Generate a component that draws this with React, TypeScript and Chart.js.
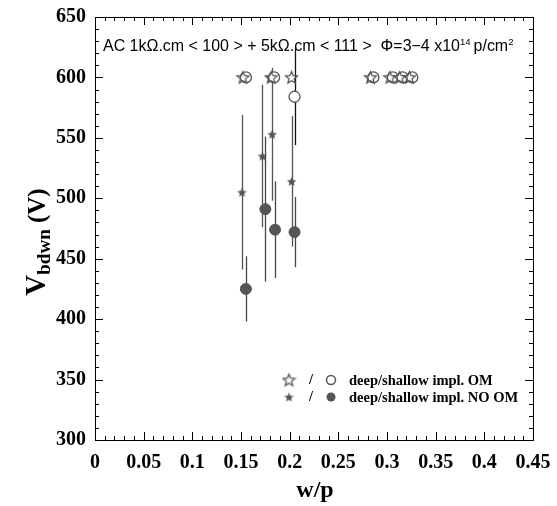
import React, { useEffect, useRef } from "react";
import { Chart, registerables } from "chart.js";
Chart.register(...registerables);

// deep implant, OM (open stars)
const omDeepX = [0.152, 0.181, 0.202, 0.283, 0.303, 0.313, 0.323];
const omDeepY = [600, 600, 600, 600, 600, 600, 600];
// shallow implant, OM (open circles)
const omShallowX = [0.155, 0.184, 0.205, 0.286, 0.306, 0.316, 0.326];
const omShallowY = [600, 600, 584, 600, 600, 600, 600];
const omShallowErr = [0, 0, 40, 0, 0, 0, 0];
// deep implant, NO OM (filled stars)
const noOmDeepX = [0.151, 0.172, 0.180, 0.182, 0.202];
const noOmDeepY = [505, 535, 600, 553, 514];
const noOmDeepErr = [64, 59, 0, 55, 54];
// shallow implant, NO OM (filled circles)
const noOmShallowX = [0.155, 0.175, 0.185, 0.205];
const noOmShallowY = [425, 491, 474, 472];
const noOmShallowErr = [27, 60, 40, 29];

const xMin = 0, xMax = 0.45, xStep = 0.05, xMinor = 0.01;
const yMin = 300, yMax = 650, yStep = 50, yMinor = 10;

const GRAY = "#555555";

function makeStar(size: number, filled: boolean, lw: number) {
  const c = document.createElement("canvas");
  c.width = size;
  c.height = size;
  const ctx = c.getContext("2d")!;
  const cx = size / 2, cy = size / 2 + 0.5;
  const R = size / 2 - lw, r = R * 0.45;
  ctx.beginPath();
  for (let i = 0; i < 10; i++) {
    const a = -Math.PI / 2 + (i * Math.PI) / 5;
    const rr = i % 2 === 0 ? R : r;
    ctx.lineTo(cx + rr * Math.cos(a), cy + rr * Math.sin(a));
  }
  ctx.closePath();
  if (filled) {
    ctx.fillStyle = GRAY;
    ctx.fill();
  } else {
    ctx.strokeStyle = GRAY;
    ctx.lineWidth = lw;
    ctx.stroke();
  }
  return c;
}

const pts = (xs: number[], ys: number[]) => xs.map((x, i) => ({ x, y: ys[i] }));

const errorBarPlugin = {
  id: "errbars",
  beforeDatasetsDraw(chart: any) {
    const { ctx, scales } = chart;
    ctx.save();
    chart.data.datasets.forEach((ds: any) => {
      if (!ds.err) return;
      ctx.strokeStyle = ds.errColor || "#444";
      ctx.lineWidth = 1.3;
      ds.data.forEach((p: any, i: number) => {
        const e = ds.err[i];
        if (!e) return;
        const x = Math.round(scales.x.getPixelForValue(p.x)) + 0.5;
        ctx.beginPath();
        ctx.moveTo(x, scales.y.getPixelForValue(p.y + e));
        ctx.lineTo(x, scales.y.getPixelForValue(p.y - e));
        ctx.stroke();
      });
    });
    ctx.restore();
  },
};

function makeDecorPlugin(bigStar: HTMLCanvasElement, smallStar: HTMLCanvasElement) {
  return {
    id: "decor",
    afterDraw(chart: any) {
      const { ctx, chartArea: a, scales } = chart;
      ctx.save();
      ctx.strokeStyle = "#000";
      ctx.lineWidth = 1;
      ctx.strokeRect(Math.round(a.left) + 0.5, Math.round(a.top) + 0.5, Math.round(a.right - a.left), Math.round(a.bottom - a.top));
      // ticks
      ctx.beginPath();
      const nx = Math.round((xMax - xMin) / xMinor);
      for (let i = 0; i <= nx; i++) {
        const v = xMin + i * xMinor;
        const major = i % Math.round(xStep / xMinor) === 0;
        const L = major ? 8 : 4;
        const x = Math.round(scales.x.getPixelForValue(v)) + 0.5;
        ctx.moveTo(x, a.bottom);
        ctx.lineTo(x, a.bottom - L);
        ctx.moveTo(x, a.top);
        ctx.lineTo(x, a.top + L);
      }
      const ny = Math.round((yMax - yMin) / yMinor);
      for (let i = 0; i <= ny; i++) {
        const v = yMin + i * yMinor;
        const major = i % Math.round(yStep / yMinor) === 0;
        const L = major ? 8 : 4;
        const y = Math.round(scales.y.getPixelForValue(v)) + 0.5;
        ctx.moveTo(a.left, y);
        ctx.lineTo(a.left + L, y);
        ctx.moveTo(a.right, y);
        ctx.lineTo(a.right - L, y);
      }
      ctx.stroke();

      // header text, fitted to its width in the reference
      ctx.fillStyle = "#000";
      ctx.textBaseline = "alphabetic";
      ctx.textAlign = "left";
      const t1 = "AC 1k\u03A9.cm < 100 > + 5k\u03A9.cm < 111 >  \u03A6=3\u22124 x10";
      const fam = "'Liberation Sans', Arial, sans-serif";
      const measureAll = (s: number) => {
        ctx.font = s + "px " + fam;
        let w = ctx.measureText(t1).width + ctx.measureText("p/cm").width;
        ctx.font = s * 0.6 + "px " + fam;
        w += ctx.measureText("14").width + ctx.measureText("2").width + 3;
        return w;
      };
      const size = 12 * 412 / measureAll(12);
      const fMain = size + "px " + fam;
      const fSup = size * 0.6 + "px " + fam;
      let x = 103;
      const yb = 51;
      ctx.font = fMain;
      ctx.fillText(t1, x, yb);
      x += ctx.measureText(t1).width;
      ctx.font = fSup;
      ctx.fillText("14", x, yb - 6);
      x += ctx.measureText("14").width + 3;
      ctx.font = fMain;
      ctx.fillText("p/cm", x, yb);
      x += ctx.measureText("p/cm").width;
      ctx.font = fSup;
      ctx.fillText("2", x, yb - 6);

      // legend
      const rows = [
        { y: 380, star: bigStar, filled: false, text: "deep/shallow impl. OM" },
        { y: 397, star: smallStar, filled: true, text: "deep/shallow impl. NO OM" },
      ];
      rows.forEach((r) => {
        ctx.drawImage(r.star, 289 - r.star.width / 2, r.y - r.star.height / 2);
        ctx.font = "bold 14.5px 'Liberation Serif', 'Times New Roman', serif";
        ctx.textBaseline = "middle";
        ctx.fillStyle = "#000";
        ctx.fillText("/", 309, r.y);
        ctx.beginPath();
        ctx.arc(331, r.y, 4.5, 0, Math.PI * 2);
        if (r.filled) {
          ctx.fillStyle = GRAY;
          ctx.fill();
        } else {
          ctx.strokeStyle = GRAY;
          ctx.lineWidth = 1.5;
          ctx.stroke();
        }
        ctx.fillStyle = "#000";
        ctx.fillText(r.text, 349, r.y + 1);
      });

      // x title
      ctx.textAlign = "center";
      ctx.textBaseline = "middle";
      ctx.font = "bold 24px 'Liberation Serif', 'Times New Roman', serif";
      ctx.fillText("w/p", 315, 491);

      // y title
      ctx.save();
      ctx.translate(36, 242);
      ctx.rotate(-Math.PI / 2);
      ctx.textAlign = "left";
      ctx.textBaseline = "alphabetic";
      const p1 = "V", p2 = "bdwn", p3 = " (V)";
      const F1 = "bold 29px 'Liberation Serif', 'Times New Roman', serif";
      const F2 = "bold 19px 'Liberation Serif', 'Times New Roman', serif";
      const F3 = "bold 25px 'Liberation Serif', 'Times New Roman', serif";
      ctx.font = F1; const w1 = ctx.measureText(p1).width;
      ctx.font = F2; const w2 = ctx.measureText(p2).width;
      ctx.font = F3; const w3 = ctx.measureText(p3).width;
      let sx = -(w1 + w2 + w3) / 2;
      ctx.font = F1; ctx.fillText(p1, sx, 9); sx += w1;
      ctx.font = F2; ctx.fillText(p2, sx, 14); sx += w2;
      ctx.font = F3; ctx.fillText(p3, sx, 9);
      ctx.restore();

      ctx.restore();
    },
  };
}

const zeroPad = (s: any) => {
  s.paddingTop = 0;
  s.paddingBottom = 0;
  s.paddingLeft = 0;
  s.paddingRight = 0;
};

export default function App() {
  const ref = useRef<HTMLCanvasElement>(null);
  useEffect(() => {
    const bigStar = makeStar(15, false, 1.3);
    const smallStar = makeStar(11, true, 0.5);
    const tickFont = { family: "'Liberation Serif', 'Times New Roman', serif", size: 20, weight: "bold" as const, lineHeight: 1 };
    const chart: any = new Chart(ref.current!, {
      type: "scatter",
      data: {
        datasets: [
          { label: "OM deep", data: pts(omDeepX, omDeepY), pointStyle: bigStar as any, pointRadius: 7 },
          {
            label: "OM shallow", data: pts(omShallowX, omShallowY), pointStyle: "circle", pointRadius: 5.5,
            backgroundColor: "#ffffff", borderColor: GRAY, borderWidth: 1.3, err: omShallowErr, errColor: "#111",
          } as any,
          {
            label: "NO OM deep", data: pts(noOmDeepX, noOmDeepY), pointStyle: smallStar as any, pointRadius: 5,
            err: noOmDeepErr, errColor: "#555",
          } as any,
          {
            label: "NO OM shallow", data: pts(noOmShallowX, noOmShallowY), pointStyle: "circle", pointRadius: 5.5,
            backgroundColor: GRAY, borderColor: GRAY, borderWidth: 1, err: noOmShallowErr, errColor: "#444",
          } as any,
        ],
      },
      options: {
        animation: false,
        responsive: false,
        layout: { padding: { top: 17, right: 24, left: 0, bottom: 0 } },
        plugins: { legend: { display: false }, tooltip: { enabled: false } },
        scales: {
          x: {
            type: "linear", min: xMin, max: xMax,
            grid: { display: false, drawTicks: false },
            border: { display: false },
            ticks: {
              stepSize: xStep, color: "#000", font: tickFont, padding: 13, maxRotation: 0, autoSkip: false,
              callback: (v: any) => String(Number(Number(v).toFixed(2))),
            },
            afterFit: (s: any) => { s.height = 66; zeroPad(s); },
          },
          y: {
            type: "linear", min: yMin, max: yMax,
            grid: { display: false, drawTicks: false },
            border: { display: false },
            ticks: { stepSize: yStep, color: "#000", font: tickFont, padding: 9 },
            afterFit: (s: any) => { s.width = 95; zeroPad(s); },
          },
        },
      },
      plugins: [errorBarPlugin, makeDecorPlugin(bigStar, smallStar)],
    } as any);
    return () => chart.destroy();
  }, []);
  return (
    <canvas
      ref={ref}
      width={557}
      height={506}
      style={{ position: "fixed", left: 0, top: 0, width: 557, height: 506, background: "#fff" }}
    />
  );
}
